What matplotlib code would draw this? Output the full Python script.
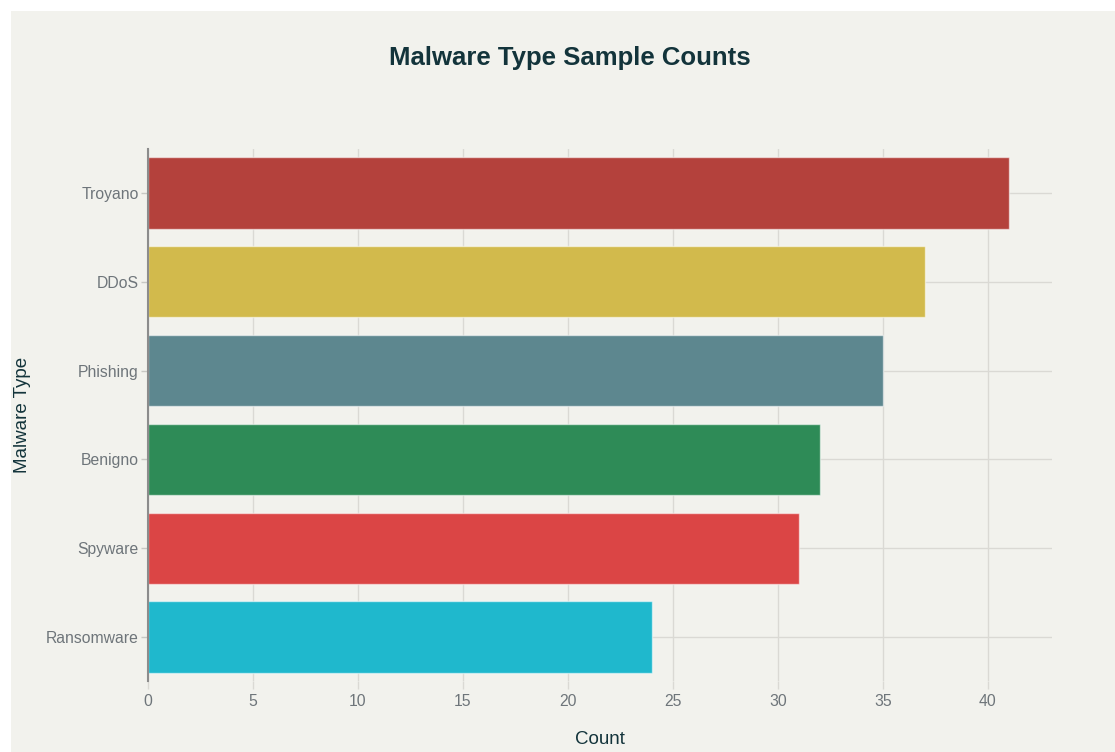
import matplotlib
matplotlib.use("Agg")
import matplotlib.pyplot as plt
from matplotlib.patches import Rectangle

categories = ["Troyano", "DDoS", "Phishing", "Benigno", "Spyware", "Ransomware"]
counts = [41, 37, 35, 32, 31, 24]
colors = ["#B4413C", "#D2BA4C", "#5D878F", "#2E8B57", "#DB4545", "#1FB8CD"]
xticks = [0, 5, 10, 15, 20, 25, 30, 35, 40]

W, H = 1115, 752
plt.rcParams['font.family'] = ['Liberation Sans', 'DejaVu Sans']
fig = plt.figure(figsize=(W / 100, H / 100), dpi=100, facecolor="white")
bg = "#F2F2ED"
fig.patches.append(Rectangle((11 / W, 0), 1 - 11 / W, 1 - 11 / H, transform=fig.transFigure,
                             facecolor=bg, edgecolor="none", zorder=-10))

left, right, top, bottom = 148, 1052, 148.6, 681.4
ax = fig.add_axes([left / W, 1 - bottom / H, (right - left) / W, (bottom - top) / H])
ax.set_facecolor(bg)

ypos = list(range(len(categories)))
ax.barh(ypos, counts, height=0.8, color=colors, edgecolor=(1, 1, 1, 0.55), linewidth=1, zorder=3)
ax.set_ylim(len(categories) - 0.5, -0.5)
ax.set_xlim(0, 43.05)
ax.set_yticks(ypos)
ax.set_yticklabels(categories)
ax.set_xticks(xticks)
ax.set_xticklabels([str(t) for t in xticks])

grid_c = "#DAD9D4"
ax.grid(True, color=grid_c, linewidth=1, zorder=0)
ax.set_axisbelow(True)
for s in ["top", "right", "bottom"]:
    ax.spines[s].set_visible(False)
ax.spines["left"].set_color("#8C8C8C")
ax.spines["left"].set_linewidth(1.5)
ax.spines["left"].set_zorder(4)

ax.tick_params(axis="x", length=6, width=1, color=grid_c, labelsize=11.3, labelcolor="#6E757A", pad=3)
ax.tick_params(axis="y", length=5, width=1, color="#C8C8C4", labelsize=11.3, labelcolor="#6E757A", pad=1.5)

axh = bottom - top
axw = right - left
ax.set_xlabel("Count", fontsize=13.5, color="#13343B", va="center")
ax.xaxis.set_label_coords(0.5, (bottom - 739) / axh)
ax.set_ylabel("Malware Type", fontsize=13.5, color="#13343B", va="center")
ax.yaxis.set_label_coords((23 - left) / axw, 0.5)

fig.text(570 / W, 1 - 58 / H, "Malware Type Sample Counts", ha="center", va="center",
         fontsize=18.5, fontweight="bold", color="#13343B")

fig.savefig("out.png", dpi=100, facecolor="white")
